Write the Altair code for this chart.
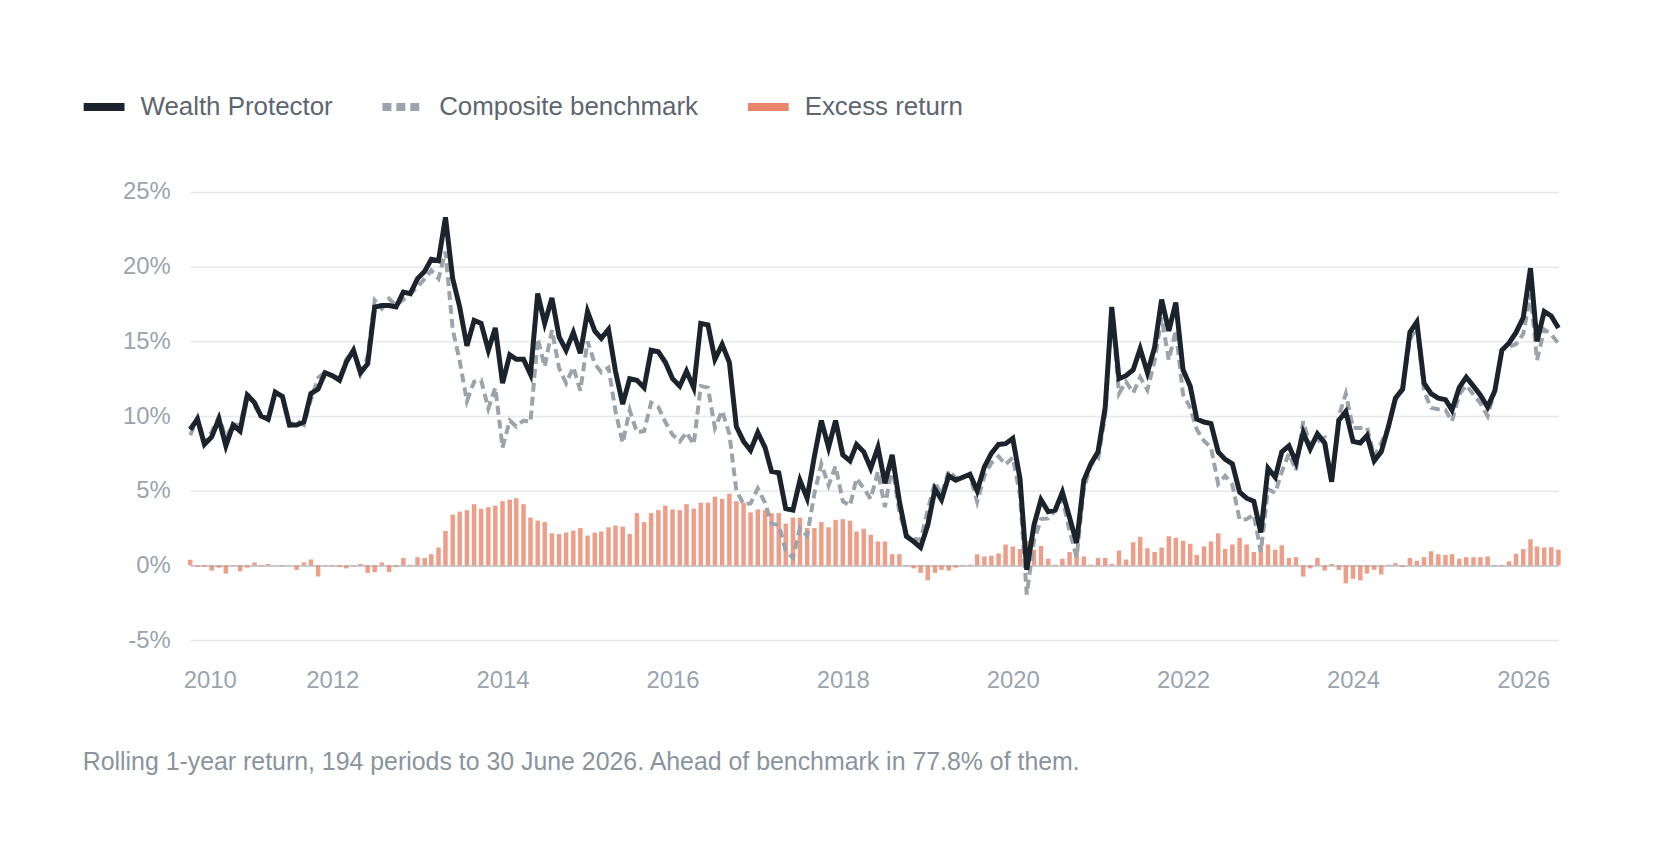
import altair as alt
import pandas as pd

# ---- data (percent) -------------------------------------------------------
start_month = "2010-05-01"

fund_return = [
    9.1, 9.8, 8.1, 8.6, 9.8, 8.0, 9.4, 9.0, 11.4, 10.9,
    10.0, 9.8, 11.6, 11.3, 9.4, 9.4, 9.6, 11.5, 11.8, 12.9,
    12.7, 12.4, 13.6, 14.4, 12.9, 13.5, 17.3, 17.4, 17.4, 17.3,
    18.3, 18.2, 19.2, 19.7, 20.5, 20.4, 23.3, 19.2, 17.3, 14.7,
    16.4, 16.2, 14.4, 15.9, 12.2, 14.1, 13.8, 13.8, 12.8, 18.2,
    16.2, 17.9, 15.3, 14.4, 15.6, 14.2, 17.0, 15.7, 15.2, 15.8,
    13.0, 10.8, 12.5, 12.4, 11.9, 14.4, 14.3, 13.6, 12.5, 12.0,
    13.0, 11.9, 16.2, 16.1, 13.8, 14.8, 13.6, 9.3, 8.3, 7.7,
    8.9, 7.9, 6.3, 6.2, 3.8, 3.7, 5.7, 4.5, 7.3, 9.7,
    7.9, 9.7, 7.4, 7.0, 8.1, 7.6, 6.5, 7.9, 5.5, 7.4,
    4.3, 1.95, 1.6, 1.2, 2.7, 5.1, 4.4, 6.0, 5.7, 5.9,
    6.1, 5.0, 6.6, 7.5, 8.1, 8.15, 8.5, 5.8, -0.3, 2.7,
    4.4, 3.6, 3.7, 4.9, 3.2, 1.5, 5.7, 6.8, 7.6, 10.6,
    17.3, 12.5, 12.7, 13.1, 14.5, 12.9, 14.6, 17.8, 15.7, 17.6,
    13.1, 12.0, 9.8, 9.6, 9.5, 7.6, 7.1, 6.8, 4.9, 4.5,
    4.3, 2.2, 6.5, 5.9, 7.6, 8.0, 6.9, 8.9, 7.8, 8.8,
    8.2, 5.6, 9.7, 10.3, 8.3, 8.2, 8.7, 7.0, 7.6, 9.3,
    11.2, 11.8, 15.6, 16.3, 12.2, 11.5, 11.2, 11.1, 10.4, 11.9,
    12.6, 12.0, 11.4, 10.6, 11.7, 14.4, 14.9, 15.6, 16.6, 19.9,
    15.0, 17.0, 16.7, 15.9,
]

excess_return = [
    0.38, -0.1, -0.1, -0.35, -0.15, -0.55, -0.05, -0.4, -0.15, 0.2,
    -0.05, 0.1, 0.02, -0.05, 0.02, -0.3, 0.2, 0.4, -0.75, -0.05,
    -0.05, -0.1, -0.2, -0.05, 0.1, -0.5, -0.45, 0.2, -0.45, -0.1,
    0.5, 0.05, 0.55, 0.5, 0.75, 1.2, 2.3, 3.4, 3.6, 3.7,
    4.1, 3.8, 3.9, 4.0, 4.3, 4.4, 4.5, 4.1, 3.2, 3.0,
    2.9, 2.15, 2.1, 2.2, 2.33, 2.5, 2.0, 2.2, 2.27, 2.55,
    2.67, 2.6, 2.1, 3.5, 2.9, 3.5, 3.7, 4.0, 3.75, 3.7,
    4.1, 3.8, 4.2, 4.2, 4.6, 4.45, 4.8, 4.3, 4.2, 3.55,
    3.75, 3.7, 3.5, 3.5, 2.8, 3.2, 3.2, 2.5, 2.5, 2.9,
    2.55, 3.05, 3.1, 3.0, 2.27, 2.45, 2.05, 1.6, 1.6, 0.75,
    0.75, -0.05, -0.2, -0.5, -1.0, -0.5, -0.3, -0.35, -0.15, -0.05,
    0.05, 0.75, 0.6, 0.65, 0.8, 1.4, 1.27, 1.1, 1.65, 1.05,
    1.3, 0.45, 0.05, 0.45, 0.9, 0.95, 0.6, 0.05, 0.5, 0.5,
    0.1, 1.0, 0.4, 1.55, 1.9, 1.15, 0.9, 1.2, 1.95, 1.85,
    1.65, 1.45, 0.7, 1.27, 1.6, 2.15, 1.1, 1.4, 1.85, 1.4,
    0.9, 1.3, 1.4, 1.05, 1.35, 0.5, 0.55, -0.75, -0.2, 0.5,
    -0.35, 0.1, -0.3, -1.2, -0.9, -1.0, -0.55, -0.3, -0.6, 0.05,
    0.15, -0.1, 0.5, 0.3, 0.55, 0.95, 0.75, 0.7, 0.75, 0.45,
    0.55, 0.55, 0.55, 0.6, -0.05, -0.05, 0.27, 0.78, 1.1, 1.75,
    1.27, 1.2, 1.22, 1.05,
]

series_names = ["Wealth Protector", "Composite benchmark", "Excess return"]
series_colors = ["#1b232c", "#9ba3ab", "#e8866c"]
series_dash = [[1, 0], [9, 5], [1, 0]]
y_ticks = [-5, 0, 5, 10, 15, 20, 25]
x_tick_years = [2012, 2014, 2016, 2018, 2020, 2022, 2024, 2026]
footer = ("Rolling 1-year return, 194 periods to 30 June 2026. "
          "Ahead of benchmark in 77.8% of them.")

# ---- frames ---------------------------------------------------------------
n = len(fund_return)
dates = pd.date_range(start_month, periods=n, freq="MS").strftime("%Y-%m-%dT00:00:00").tolist()
bench_return = [round(f - e, 2) for f, e in zip(fund_return, excess_return)]

fund_df = pd.DataFrame({"date": dates, "value": fund_return})
bench_df = pd.DataFrame({"date": dates, "value": bench_return})
bars_df = pd.DataFrame({"date": dates, "value": excess_return})
legend_df = pd.DataFrame({
    "date": [dates[0]] * 3, "value": [0.0] * 3, "series": series_names,
})

FONT = "Liberation Sans"

x_values = [alt.DateTime(year=2010, month=5, date=1)] + [
    alt.DateTime(year=y, month=1, date=1) for y in x_tick_years]

x_enc = alt.X(
    "date:T",
    scale=alt.Scale(padding=0),
    axis=alt.Axis(
        title=None, values=x_values, format="%Y", grid=False, ticks=False,
        domain=False, labelFlush=True, labelFlushOffset=7, labelPadding=29,
    ),
)
y_enc = alt.Y(
    "value:Q",
    scale=alt.Scale(domain=[-5, 25], nice=False, zero=False),
    axis=alt.Axis(
        title=None, values=y_ticks, labelExpr="datum.value + '%'",
        ticks=False, domain=False, labelPadding=20,
        gridColor=alt.condition("datum.value === 0", alt.value("#c9ced4"), alt.value("#e6e8eb")),
        gridWidth=alt.condition("datum.value === 0", alt.value(2), alt.value(1.5)),
    ),
)

legend = alt.Legend(
    title=None, orient="none", legendX=-111, legendY=-110, direction="horizontal",
    symbolType="stroke", symbolSize=1681, symbolStrokeWidth=8, symbolOpacity=1,
    labelFontSize=26, labelColor="#5c6670", labelFont=FONT, labelLimit=0,
    labelOffset=12, columnPadding=33, padding=0,
)

bars = alt.Chart(bars_df).mark_bar(width=4.5, opacity=0.8, color=series_colors[2]).encode(
    x=x_enc, y=y_enc,
)
bench_line = alt.Chart(bench_df).mark_line(
    color=series_colors[1], strokeWidth=4, strokeDash=series_dash[1], strokeCap="butt",
).encode(x=x_enc, y=y_enc)
fund_line = alt.Chart(fund_df).mark_line(
    color=series_colors[0], strokeWidth=5,
).encode(x=x_enc, y=y_enc)

# legend-only layer (a single invisible point per series)
legend_layer = alt.Chart(legend_df).mark_line(strokeWidth=8, opacity=0, strokeCap="butt").encode(
    x=x_enc, y=y_enc,
    color=alt.Color("series:N", scale=alt.Scale(domain=series_names, range=series_colors),
                    legend=legend),
    strokeDash=alt.StrokeDash("series:N",
                              scale=alt.Scale(domain=series_names, range=series_dash),
                              legend=legend),
)

chart = alt.layer(bars, bench_line, fund_line, legend_layer).properties(
    width=1374, height=450, background="white",
    padding={"left": 72, "top": 73, "right": 95, "bottom": 70},
    title=alt.TitleParams(
        text=footer, orient="bottom", anchor="start", frame="group", dx=-108,
        offset=57, fontSize=25, font=FONT, fontWeight="normal", color="#8a949e",
    ),
).configure_view(stroke=None).configure_axis(
    labelFont=FONT, labelFontSize=24, labelColor="#9aa4ae",
)

chart.save("out.html", embed_options={"renderer": "svg", "actions": False})
